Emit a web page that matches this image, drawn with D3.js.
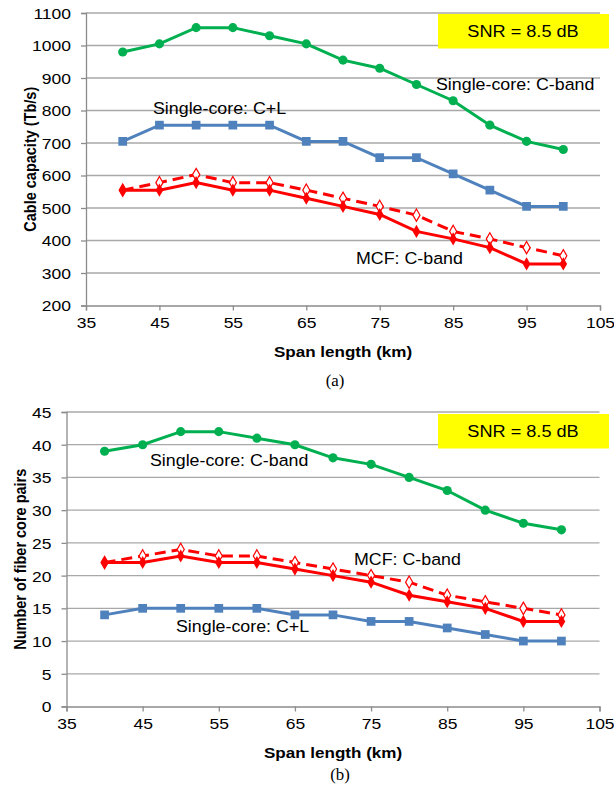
<!DOCTYPE html>
<meta charset="utf-8">
<script src="https://d3js.org/d3.v7.min.js"></script>
<style>
body { margin: 0; background: #fff; }
text { font-family: 'Liberation Sans', Arial, sans-serif; fill: #000; }
.lab { font-size: 16.5px; }
.ttl { font-size: 15.5px; font-weight: bold; }
.ytl { font-size: 14.5px; font-weight: bold; }
.cap { font-family: 'Liberation Serif', 'Times New Roman', serif; font-size: 16px; }
</style>
<div id="chart"></div>
<script>
// span lengths (km)
var spans = [40, 45, 50, 55, 60, 65, 70, 75, 80, 85, 90, 95, 100];

// (a) cable capacity, Tb/s
var capSingleC  = [980, 1005, 1055, 1055, 1030, 1005, 955, 930, 880, 830, 755, 705, 680];
var capSingleCL = [705, 755, 755, 755, 755, 705, 705, 655, 655, 605, 555, 505, 505];
var capMcf      = [555, 555, 578, 555, 555, 530, 505, 480, 428, 405, 378, 328, 328];
var capMcfDash  = [555, 578, 603, 578, 578, 555, 530, 505, 478, 428, 405, 378, 353];

// (b) number of fiber core pairs
var pairSingleC  = [39, 40, 42, 42, 41, 40, 38, 37, 35, 33, 30, 28, 27];
var pairMcf      = [22, 22, 23, 22, 22, 21, 20, 19, 17, 16, 15, 13, 13];
var pairMcfDash  = [22, 23, 24, 23, 23, 22, 21, 20, 19, 17, 16, 15, 14];
var pairSingleCL = [14, 15, 15, 15, 15, 14, 14, 13, 13, 12, 11, 10, 10];

var xTicks = [35, 45, 55, 65, 75, 85, 95, 105];

var green = "#00B050", blue = "#4F81BD", red = "#FF0000";

var svg = d3.select("#chart").append("svg")
    .attr("width", 614).attr("height", 789);

// the figure is a bit wider than tall, so text is stretched sideways
function wide(sel, x, y, sx) {
  sel.attr("transform", "translate(" + x + "," + y + ") scale(" + sx + ",1)");
}

function panel(opt) {
  var x = d3.scaleLinear().domain([35, 105]).range([opt.left, opt.right]);
  var y = d3.scaleLinear().domain(opt.ydom).range([opt.bottom, opt.top]);
  var g = svg.append("g");
  var mid = (opt.left + opt.right) / 2;

  // grid
  g.append("g").selectAll("line").data(opt.yticks.slice(1)).enter().append("line")
    .attr("x1", opt.left).attr("x2", opt.right)
    .attr("y1", function(d) { return y(d); }).attr("y2", function(d) { return y(d); })
    .attr("stroke", "#a8a8a8").attr("stroke-width", 1.3);

  var yAxis = g.append("g").attr("transform", "translate(" + opt.left + ",0)")
    .call(d3.axisLeft(y).tickValues(opt.yticks).tickFormat(d3.format("d")).tickSize(5));
  var xAxis = g.append("g").attr("transform", "translate(0," + opt.bottom + ")")
    .call(d3.axisBottom(x).tickValues(xTicks).tickFormat(d3.format("d")).tickSize(5));
  [yAxis, xAxis].forEach(function(a) {
    a.select(".domain").attr("stroke", "#8c8c8c").attr("stroke-width", 1.3);
    a.selectAll(".tick line").attr("stroke", "#8c8c8c").attr("stroke-width", 1.3);
    a.selectAll(".tick text").style("font-family", "'Liberation Sans', Arial, sans-serif")
      .style("font-size", "15.5px").attr("fill", "#000");
  });
  yAxis.selectAll(".tick text").attr("x", null).attr("dy", "0.35em")
    .attr("transform", "translate(-15,0) scale(1.13,1)");
  xAxis.selectAll(".tick text").attr("y", null).attr("dy", "0.71em")
    .attr("transform", "translate(0,11) scale(1.13,1)");

  var line = d3.line().x(function(d, i) { return x(spans[i]); }).y(function(d) { return y(d); });

  opt.series.forEach(function(s) {
    g.append("path").datum(s.values)
      .attr("d", line).attr("fill", "none")
      .attr("stroke", s.color).attr("stroke-width", 3)
      .attr("stroke-dasharray", s.dash ? "11,6" : null);
    var m = g.append("g").selectAll("path").data(s.values).enter().append("path")
      .attr("transform", function(d, i) { return "translate(" + x(spans[i]) + "," + y(d) + ")"; });
    if (s.marker === "circle") {
      m.attr("d", d3.symbol(d3.symbolCircle, 66)).attr("fill", s.color);
    } else if (s.marker === "square") {
      m.attr("d", d3.symbol(d3.symbolSquare, 76)).attr("fill", s.color);
    } else if (s.marker === "diamond") {
      m.attr("d", d3.symbol(d3.symbolDiamond, 50)).attr("fill", s.color);
    } else {
      m.attr("d", d3.symbol(d3.symbolDiamond, 44)).attr("fill", "#fff")
        .attr("stroke", s.color).attr("stroke-width", 1.2);
    }
  });

  // SNR box
  g.append("rect").attr("x", 438).attr("y", opt.boxY).attr("width", 171).attr("height", 34.5)
    .attr("fill", "#FFFF00");
  g.append("text").attr("class", "lab").attr("dy", "0.35em").attr("text-anchor", "middle")
    .call(wide, 523, opt.boxY + 17.5, 1.1).text("SNR = 8.5 dB");

  opt.labels.forEach(function(l) {
    g.append("text").attr("class", "lab").attr("dy", "0.35em")
      .call(wide, l[1], l[2], 1.08).text(l[0]);
  });

  g.append("text").attr("class", "ttl").attr("text-anchor", "middle")
    .call(wide, mid, opt.bottom + 51, 1.1).text("Span length (km)");
  g.append("text").attr("class", "ytl").attr("text-anchor", "middle")
    .attr("transform", "translate(" + opt.yTitleX + "," + (opt.top + opt.bottom) / 2 + ") scale(1.15,1) rotate(-90)")
    .text(opt.yTitle);
  g.append("text").attr("class", "cap").attr("text-anchor", "middle")
    .call(wide, opt.capX, opt.capY, 1.05).text(opt.cap);
}

panel({
  left: 86, right: 600, top: 13, bottom: 305.5, ydom: [200, 1100],
  yticks: d3.range(200, 1101, 100),
  boxY: 14, yTitleX: 36, yTitle: "Cable capacity (Tb/s)",
  capX: 335, capY: 386, cap: "(a)",
  series: [
    {values: capSingleC, color: green, marker: "circle"},
    {values: capSingleCL, color: blue, marker: "square"},
    {values: capMcfDash, color: red, marker: "open", dash: true},
    {values: capMcf, color: red, marker: "diamond"}
  ],
  labels: [["Single-core: C+L", 153, 108], ["Single-core: C-band", 436, 84], ["MCF: C-band", 356, 258]]
});

panel({
  left: 66.5, right: 599.5, top: 412, bottom: 706.5, ydom: [0, 45],
  yticks: d3.range(0, 46, 5),
  boxY: 414, yTitleX: 26, yTitle: "Number of fiber core pairs",
  capX: 340, capY: 780, cap: "(b)",
  series: [
    {values: pairSingleC, color: green, marker: "circle"},
    {values: pairSingleCL, color: blue, marker: "square"},
    {values: pairMcfDash, color: red, marker: "open", dash: true},
    {values: pairMcf, color: red, marker: "diamond"}
  ],
  labels: [["Single-core: C-band", 150, 460], ["MCF: C-band", 354, 559], ["Single-core: C+L", 176, 626]]
});
</script>
